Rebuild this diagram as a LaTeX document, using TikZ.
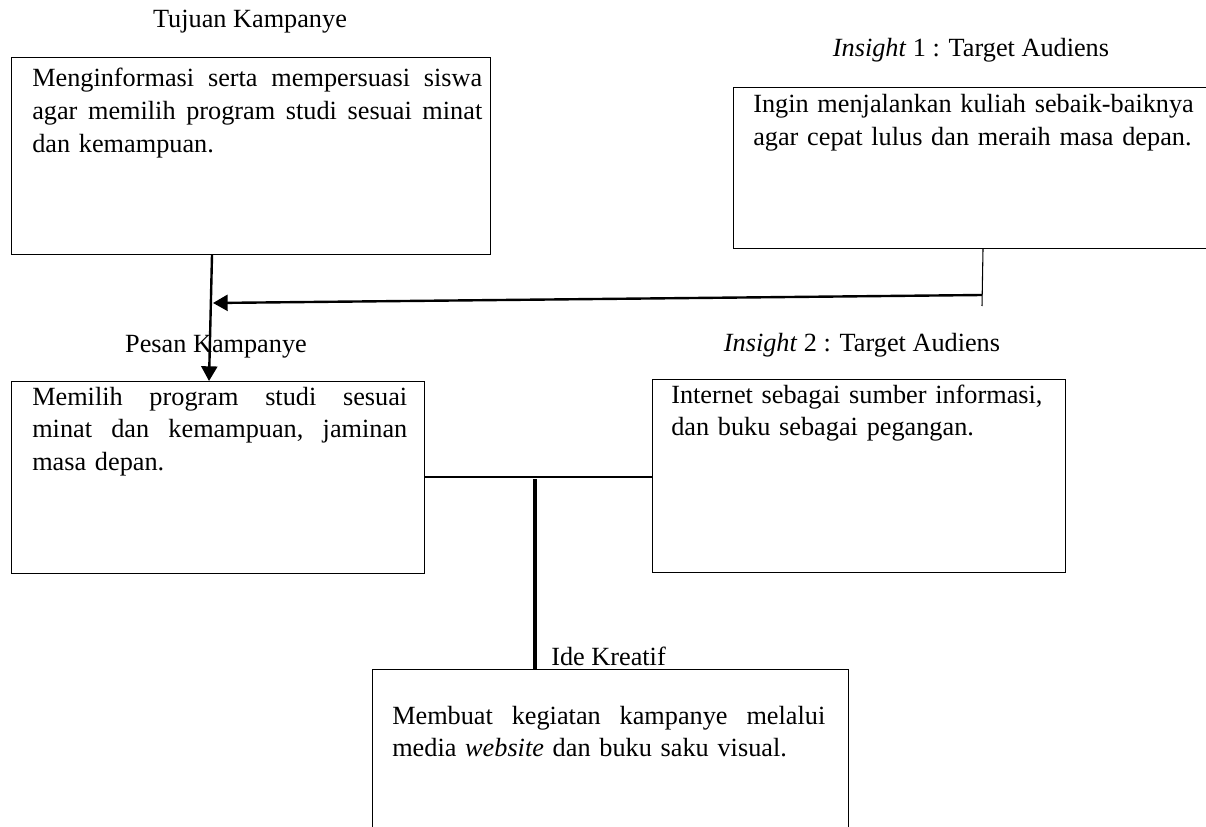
\documentclass[tikz,border=0pt]{standalone}
\usepackage{fontspec}
\setmainfont{Liberation Serif}
\usepackage{tikz}
\usetikzlibrary{arrows.meta,calc}
\newcommand{\diagfont}{\fontsize{19.7pt}{24.5pt}\selectfont}

\begin{document}
\begin{tikzpicture}[x=0.75pt,y=0.75pt,yscale=-1,xscale=1,
	box/.style={draw, line width=0.9pt, anchor=north west, inner sep=0pt},
	boxtext/.style={anchor=base west, inner sep=0pt, align=left, font=\diagfont},
	headtext/.style={anchor=base, inner sep=0pt, font=\diagfont},
	arr/.style={line width=1.8pt, -{Triangle[width=12pt,length=11pt]}},
	thinline/.style={line width=0.8pt},
	thickline/.style={line width=2.5pt}]
	\useasboundingbox (0,0) rectangle (1206,827);
	
	%Shape: Rectangle [id:tujuan]
	\node (tujuan) [box, minimum width=359.25pt, minimum height=147.75pt] at (11,57) {};
	%Shape: Rectangle [id:insight1]
	\node (insight1) [box, minimum width=361.5pt, minimum height=120.75pt] at (733,87) {};
	%Shape: Rectangle [id:pesan]
	\node (pesan) [box, minimum width=309.75pt, minimum height=144pt] at (11,381) {};
	%Shape: Rectangle [id:insight2]
	\node (insight2) [box, minimum width=309.75pt, minimum height=144.75pt] at (652,379) {};
	%Shape: Rectangle [id:ide]
	\node (ide) [box, minimum width=357pt, minimum height=128.25pt] at (372,669) {};
	
	% Text Node
	\node (tujuanlbl) [headtext] at (250,28) {Tujuan Kampanye};
	% Text Node
	\node (insight1lbl) [headtext] at (971,57) {\textit{Insight} 1 : Target Audiens};
	% Text Node
	\node (pesanlbl) [headtext] at (216,352) {Pesan Kampanye};
	% Text Node
	\node (insight2lbl) [headtext] at (862,351) {\textit{Insight} 2 : Target Audiens};
	% Text Node
	\node (idelbl) [headtext, anchor=base west] at (551,665) {Ide Kreatif};
	
	% Text Node
	\node (tujuantxt) [boxtext, text width=337.5pt] at (32,87) {\makebox[337.5pt]{Menginformasi\hfill serta\hfill mempersuasi\hfill siswa}\\ \makebox[337.5pt]{agar\hfill memilih\hfill program\hfill studi\hfill sesuai\hfill minat}\\ dan kemampuan.};
	% Text Node
	\node (insight1txt) [boxtext, text width=340pt] at (753,113) {Ingin menjalankan kuliah sebaik-baiknya\\ agar cepat lulus dan meraih masa depan.};
	% Text Node
	\node (pesantxt) [boxtext, text width=281.25pt] at (32,405) {\makebox[281.25pt]{Memilih\hfill program\hfill studi\hfill sesuai}\\ \makebox[281.25pt]{minat\hfill dan\hfill kemampuan,\hfill jaminan}\\ masa depan.};
	% Text Node
	\node (insight2txt) [boxtext, text width=290pt] at (671,403) {Internet sebagai sumber informasi,\\ dan buku sebagai pegangan.};
	% Text Node
	\node (idetxt) [boxtext, text width=324.75pt] at (392,724) {\makebox[324.75pt]{Membuat\hfill kegiatan\hfill kampanye\hfill melalui}\\ media \textit{website} dan buku saku visual.};
	
	%Straight Lines [id:insight1-down]
	\coordinate (i1end) at (982,306);
	\coordinate (i1turn) at (982,295);
	\coordinate (pesanin) at (213,303);
	\draw [thinline] ($(insight1.south west)+(250,0)$) -- (i1end);
	%Straight Lines [id:insight1-arrow]
	\draw [arr] (i1turn) -- (pesanin);
	%Straight Lines [id:tujuan-pesan]
	\draw [arr] ($(tujuan.south west)+(201,0)$) -- ($(pesan.north west)+(198,0)$);
	%Straight Lines [id:pesan-insight2]
	\draw [thinline] ($(pesan.north east)+(0,96)$) coordinate (mid) -- (mid -| insight2.west);
	%Straight Lines [id:ide-up]
	\draw [thickline] ($(ide.north west)+(163,0)$) -- ++(0,-190);
	
\end{tikzpicture}
\end{document}
